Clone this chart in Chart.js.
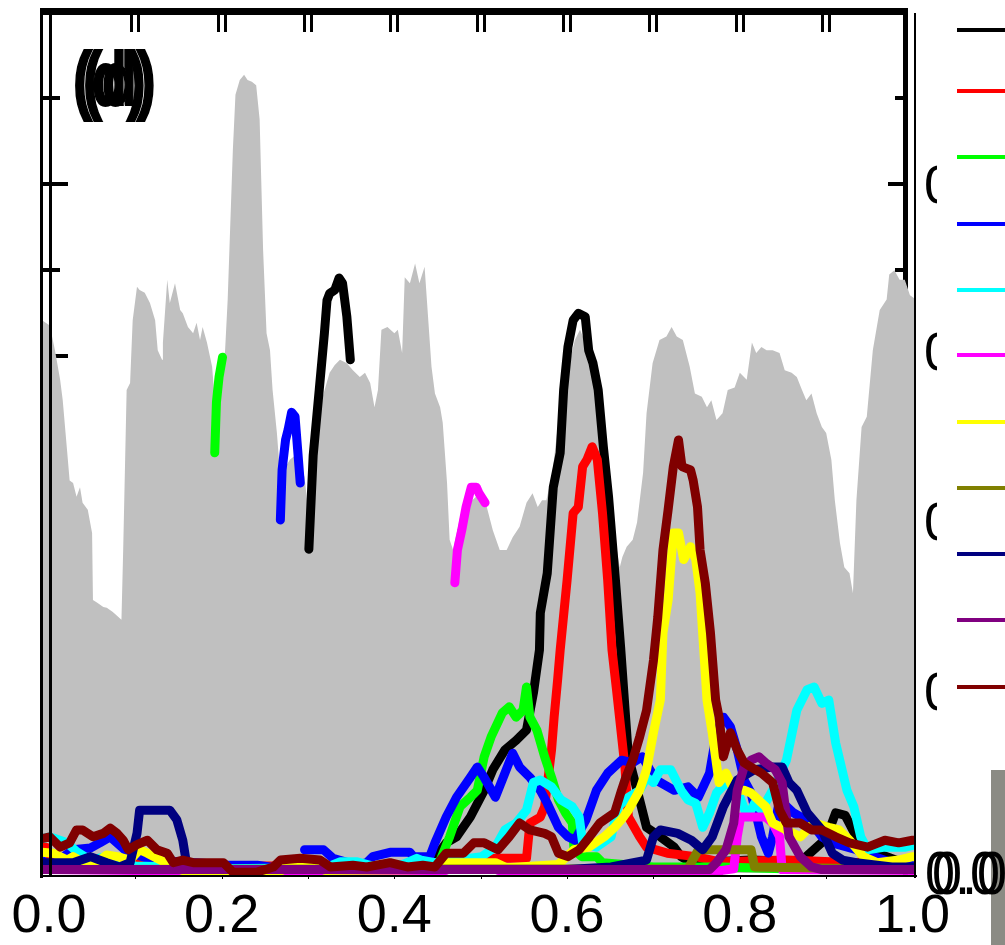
<!DOCTYPE html>
<html>
<head>
<meta charset="utf-8">
<title>Panel (d)</title>
<script src="https://cdn.jsdelivr.net/npm/chart.js@4/dist/chart.umd.min.js"></script>
<style>
  html, body { margin: 0; padding: 0; background: #fff; }
  #wrap { position: relative; width: 1005px; height: 945px; overflow: hidden; font-family: "Liberation Sans", Arial, sans-serif; }
  #wrap canvas { position: absolute; left: 0; top: 0; }
  .txt { position: absolute; color: #000; white-space: nowrap; line-height: 1; }
  .tag { font-weight: bold; font-size: 57px; transform: scaleY(1.33); transform-origin: 0 0; -webkit-text-stroke: 1.5px #000; }
  .rlab { font-size: 54px; }
  .zero { font-size: 54px; transform: scaleY(1.13); transform-origin: 0 0; }
  #legendBox { position: absolute; left: 937px; top: 0; width: 68px; height: 720px; background: #fff; }
  .key { position: absolute; left: 20px; width: 50px; height: 4px; }
  #bar { position: absolute; left: 991px; top: 770px; width: 14px; height: 175px; background: #8b8b84; }
</style>
</head>
<body>
<div id="wrap">
  <canvas id="chart" width="1005" height="945"></canvas>
  <div class="txt tag" style="left:73px; top:41px;">(d)</div>
  <div class="txt tag" style="left:83px; top:41px;">(d)</div>
  <div class="txt rlab" style="left:924px; top:157px;">0.8</div>
  <div class="txt rlab" style="left:924px; top:324px;">0.6</div>
  <div class="txt rlab" style="left:924px; top:494px;">0.4</div>
  <div class="txt rlab" style="left:924px; top:664px;">0.2</div>
  <div id="legendBox"></div>
  <div id="bar"></div>
  <div class="txt zero" style="left:925px; top:842px;">0.0</div>
  <div class="txt zero" style="left:932px; top:842px;">0.0</div>
</div>
<script>
// x axis labels
const xTicks = [0, 0.2, 0.4, 0.6, 0.8, 1.0];

// gray envelope [x, y]
const envelope = [
  [-0.008,0.642],[0.001,0.636],[0.007,0.607],[0.013,0.573],[0.016,0.549],[0.021,0.491],[0.024,0.456],[0.028,0.453],
  [0.032,0.437],[0.036,0.448],[0.039,0.430],[0.045,0.422],[0.050,0.395],[0.051,0.317],[0.056,0.314],[0.063,0.309],
  [0.067,0.308],[0.074,0.303],[0.084,0.294],[0.086,0.375],[0.090,0.561],[0.094,0.569],[0.097,0.642],[0.102,0.681],
  [0.105,0.677],[0.111,0.674],[0.117,0.662],[0.123,0.642],[0.126,0.607],[0.131,0.596],[0.132,0.616],[0.137,0.689],
  [0.140,0.662],[0.146,0.685],[0.152,0.654],[0.155,0.650],[0.161,0.634],[0.167,0.627],[0.171,0.639],[0.175,0.619],
  [0.178,0.634],[0.183,0.616],[0.189,0.588],[0.192,0.549],[0.194,0.491],[0.198,0.549],[0.204,0.607],[0.207,0.666],
  [0.209,0.724],[0.213,0.840],[0.216,0.904],[0.221,0.921],[0.226,0.927],[0.230,0.921],[0.235,0.919],[0.240,0.915],
  [0.244,0.875],[0.248,0.724],[0.252,0.627],[0.256,0.607],[0.259,0.561],[0.264,0.511],[0.267,0.472],[0.273,0.470],
  [0.279,0.480],[0.285,0.485],[0.291,0.476],[0.296,0.460],[0.300,0.422],[0.306,0.483],[0.311,0.514],[0.317,0.553],
  [0.325,0.581],[0.331,0.590],[0.337,0.596],[0.345,0.592],[0.352,0.584],[0.360,0.576],[0.366,0.581],[0.372,0.569],
  [0.377,0.541],[0.381,0.561],[0.385,0.631],[0.392,0.634],[0.400,0.627],[0.404,0.631],[0.409,0.604],[0.412,0.692],
  [0.418,0.685],[0.424,0.708],[0.429,0.685],[0.435,0.704],[0.439,0.646],[0.443,0.588],[0.447,0.557],[0.453,0.541],
  [0.456,0.523],[0.461,0.453],[0.464,0.387],[0.468,0.375],[0.476,0.413],[0.487,0.430],[0.499,0.441],[0.507,0.425],
  [0.514,0.398],[0.522,0.375],[0.530,0.375],[0.537,0.390],[0.545,0.402],[0.553,0.430],[0.560,0.441],[0.566,0.425],
  [0.571,0.433],[0.576,0.433],[0.583,0.465],[0.591,0.534],[0.600,0.581],[0.609,0.619],[0.615,0.631],[0.626,0.604],
  [0.634,0.557],[0.641,0.495],[0.649,0.418],[0.657,0.379],[0.661,0.355],[0.664,0.367],[0.669,0.379],[0.676,0.387],
  [0.681,0.407],[0.688,0.465],[0.692,0.534],[0.699,0.592],[0.707,0.619],[0.715,0.623],[0.721,0.634],[0.727,0.623],
  [0.734,0.619],[0.742,0.588],[0.748,0.557],[0.756,0.553],[0.762,0.541],[0.767,0.549],[0.773,0.526],[0.780,0.534],
  [0.786,0.561],[0.794,0.564],[0.800,0.581],[0.808,0.573],[0.814,0.616],[0.819,0.604],[0.825,0.611],[0.831,0.607],
  [0.838,0.607],[0.846,0.604],[0.852,0.584],[0.860,0.581],[0.866,0.576],[0.872,0.561],[0.877,0.549],[0.883,0.557],
  [0.889,0.534],[0.895,0.518],[0.900,0.511],[0.906,0.480],[0.910,0.433],[0.916,0.383],[0.921,0.355],[0.927,0.348],
  [0.931,0.325],[0.935,0.433],[0.941,0.518],[0.947,0.530],[0.954,0.607],[0.962,0.654],[0.970,0.666],[0.973,0.695],
  [0.979,0.700],[0.985,0.689],[0.991,0.689],[0.997,0.671],[1.004,0.666]
];

// colored series [x, y]; null = gap
const black = [
  [-0.008,0.012],[0.02,0.010],[0.10,0.008],[0.20,0.006],[0.29,0.006],[0.295,null],
  [0.301,0.376],[0.306,0.485],[0.313,0.561],[0.319,0.627],[0.322,0.665],[0.325,0.673],[0.331,0.677],[0.336,0.691],
  [0.340,0.685],[0.345,0.646],[0.349,0.596],[0.352,null],
  [0.36,0.006],[0.44,0.008],[0.460,0.035],[0.472,0.042],[0.488,0.065],[0.504,0.096],[0.514,0.120],[0.528,0.143],
  [0.541,0.154],[0.553,0.166],[0.561,0.209],[0.568,0.259],[0.569,0.302],[0.577,0.348],[0.584,0.448],[0.592,0.488],
  [0.596,0.561],[0.601,0.611],[0.607,0.642],[0.613,0.650],[0.621,0.646],[0.625,0.607],[0.630,0.592],[0.636,0.561],
  [0.642,0.495],[0.648,0.437],[0.656,0.340],[0.662,0.262],[0.671,0.135],[0.684,0.085],[0.692,0.053],[0.708,0.042],
  [0.724,0.030],[0.732,0.019],[0.744,0.012],[0.813,0.015],[0.870,0.013],[0.900,0.040],[0.911,0.070],[0.922,0.067],
  [0.935,0.042],[0.948,0.027],[0.986,0.013],[1.004,0.013]
];
const red = [
  [-0.008,0.030],[-0.003,0.030],[0.002,0.018],[0.05,0.012],[0.2,0.008],[0.4,0.008],[0.45,0.010],[0.509,0.017],
  [0.553,0.017],[0.557,0.058],[0.569,0.065],[0.574,0.077],[0.582,0.143],[0.585,0.181],[0.589,0.224],[0.592,0.259],
  [0.600,0.340],[0.607,0.418],[0.613,0.425],[0.618,0.472],[0.623,0.480],[0.629,0.495],[0.635,0.480],[0.641,0.418],
  [0.647,0.340],[0.652,0.259],[0.657,0.215],[0.667,0.123],[0.671,0.065],[0.684,0.042],[0.692,0.030],[0.716,0.023],
  [0.749,0.019],[0.777,0.013],[0.854,0.015],[0.935,0.012],[0.951,0.015],[1.004,0.009]
];
const green = [
  [-0.008,0.006],[0.1,0.005],[0.19,0.005],[0.191,null],
  [0.192,0.488],[0.194,0.547],[0.197,0.576],[0.201,0.599],[0.203,null],
  [0.21,0.005],[0.44,0.005],[0.452,0.012],[0.464,0.042],[0.476,0.077],[0.488,0.088],[0.496,0.096],[0.504,0.135],
  [0.512,0.158],[0.525,0.186],[0.533,0.193],[0.541,0.181],[0.549,0.189],[0.553,0.216],[0.557,0.181],[0.565,0.166],
  [0.574,0.135],[0.582,0.111],[0.590,0.085],[0.598,0.070],[0.606,0.058],[0.608,0.027],[0.617,0.019],[0.634,0.019],
  [0.641,0.012],[0.70,0.007],[0.78,0.007],[0.85,0.005],[1.004,0.005]
];
const blue = [
  [-0.008,0.015],[0.001,0.007],[0.028,0.027],[0.048,0.029],[0.059,0.035],[0.071,0.042],[0.09,0.025],[0.12,0.015],
  [0.2,0.010],[0.207,0.009],[0.241,0.009],[0.262,0.006],[0.265,null],
  [0.268,0.410],[0.270,0.468],[0.274,0.503],[0.277,0.515],[0.281,0.535],[0.285,0.530],[0.288,0.492],[0.291,0.453],[0.293,null],
  [0.296,0.027],[0.318,0.027],[0.329,0.017],[0.357,0.009],[0.368,0.012],[0.375,0.019],[0.395,0.024],[0.418,0.024],
  [0.422,0.019],[0.441,0.019],[0.447,0.035],[0.460,0.065],[0.472,0.088],[0.488,0.111],[0.496,0.123],[0.504,0.111],
  [0.517,0.088],[0.528,0.116],[0.537,0.139],[0.545,0.123],[0.557,0.111],[0.569,0.096],[0.577,0.081],[0.590,0.053],
  [0.601,0.042],[0.609,0.038],[0.622,0.062],[0.634,0.096],[0.647,0.116],[0.663,0.131],[0.676,0.128],[0.687,0.135],
  [0.703,0.108],[0.724,0.096],[0.740,0.100],[0.752,0.088],[0.765,0.116],[0.773,0.163],[0.781,0.181],[0.789,0.170],
  [0.797,0.143],[0.805,0.108],[0.813,0.093],[0.825,0.042],[0.833,0.023],[0.838,0.042],[0.846,0.085],[0.862,0.070],
  [0.883,0.058],[0.895,0.042],[0.907,0.035],[0.935,0.027],[0.956,0.019],[0.976,0.012],[1.004,0.012]
];
const cyan = [
  [-0.008,0.040],[0.001,0.042],[0.021,0.035],[0.032,0.025],[0.048,0.015],[0.07,0.020],[0.10,0.008],[0.144,0.007],
  [0.2,0.005],[0.32,0.006],[0.337,0.013],[0.357,0.013],[0.375,0.008],[0.41,0.010],[0.426,0.017],[0.431,0.015],
  [0.447,0.012],[0.501,0.019],[0.517,0.030],[0.528,0.050],[0.541,0.058],[0.553,0.073],[0.561,0.105],[0.569,0.108],
  [0.582,0.100],[0.593,0.085],[0.606,0.077],[0.614,0.065],[0.618,0.035],[0.634,0.030],[0.651,0.042],[0.659,0.077],
  [0.671,0.088],[0.684,0.096],[0.692,0.111],[0.700,0.105],[0.708,0.120],[0.720,0.120],[0.732,0.096],[0.740,0.085],
  [0.749,0.081],[0.757,0.053],[0.765,0.070],[0.773,0.093],[0.784,0.105],[0.797,0.096],[0.809,0.065],[0.817,0.081],
  [0.825,0.073],[0.840,0.100],[0.854,0.131],[0.866,0.189],[0.878,0.213],[0.886,0.216],[0.895,0.197],[0.903,0.201],
  [0.911,0.151],[0.924,0.096],[0.932,0.077],[0.940,0.042],[0.948,0.027],[0.968,0.030],[0.992,0.030],[1.004,0.033]
];
const magenta = [
  [-0.008,0.010],[0.0,0.004],[0.1,0.003],[0.46,0.003],[0.466,null],
  [0.470,0.337],[0.473,0.375],[0.478,0.398],[0.483,0.425],[0.489,0.448],[0.495,0.448],[0.498,0.441],[0.505,0.430],[0.507,null],
  [0.52,0.003],[0.78,0.003],[0.793,0.005],[0.797,0.042],[0.801,0.065],[0.813,0.065],[0.830,0.065],[0.838,0.058],
  [0.846,0.042],[0.849,0.004],[1.004,0.003]
];
const yellow = [
  [-0.008,0.024],[0.005,0.023],[0.021,0.015],[0.028,0.019],[0.048,0.007],[0.067,0.021],[0.079,0.019],[0.094,0.015],
  [0.105,0.027],[0.114,0.023],[0.129,0.015],[0.144,0.007],[0.155,0.003],[0.27,0.003],[0.275,0.008],[0.31,0.008],
  [0.32,0.003],[0.44,0.004],[0.455,0.012],[0.517,0.012],[0.53,0.006],[0.59,0.010],[0.608,0.027],[0.625,0.030],
  [0.643,0.042],[0.655,0.053],[0.663,0.062],[0.671,0.073],[0.684,0.096],[0.692,0.120],[0.700,0.163],[0.708,0.201],
  [0.711,0.279],[0.717,0.317],[0.723,0.395],[0.729,0.395],[0.735,0.364],[0.743,0.379],[0.749,0.364],[0.754,0.325],
  [0.762,0.201],[0.768,0.163],[0.776,0.105],[0.784,0.116],[0.793,0.096],[0.805,0.096],[0.813,0.093],[0.830,0.077],
  [0.838,0.058],[0.854,0.050],[0.870,0.042],[0.886,0.058],[0.903,0.053],[0.915,0.050],[0.927,0.038],[0.943,0.019],
  [0.959,0.012],[0.984,0.015],[1.000,0.019],[1.004,0.019]
];
const olive = [
  [-0.008,0.004],[0.74,0.005],[0.752,0.027],[0.781,0.027],[0.813,0.027],[0.817,0.007],[1.004,0.004]
];
const navy = [
  [-0.008,0.012],[0.001,0.012],[0.028,0.012],[0.048,0.019],[0.067,0.012],[0.082,0.007],[0.094,0.012],[0.102,0.046],
  [0.105,0.073],[0.140,0.073],[0.148,0.062],[0.155,0.038],[0.160,0.007],[0.163,0.004],[0.60,0.004],[0.651,0.007],
  [0.692,0.015],[0.700,0.042],[0.708,0.050],[0.728,0.046],[0.744,0.038],[0.757,0.027],[0.768,0.042],[0.781,0.077],
  [0.797,0.108],[0.817,0.120],[0.838,0.123],[0.849,0.123],[0.857,0.105],[0.866,0.096],[0.878,0.070],[0.895,0.050],
  [0.907,0.023],[0.919,0.015],[0.935,0.012],[0.976,0.007],[1.004,0.007]
];
const purple = [
  [-0.008,0.004],[0.765,0.004],[0.773,0.012],[0.784,0.027],[0.793,0.058],[0.797,0.096],[0.805,0.123],[0.813,0.131],
  [0.822,0.135],[0.830,0.128],[0.841,0.120],[0.849,0.105],[0.854,0.065],[0.857,0.042],[0.870,0.019],[0.883,0.007],
  [0.895,0.004],[1.004,0.004]
];
const maroon = [
  [-0.008,0.040],[0.001,0.042],[0.013,0.030],[0.024,0.035],[0.032,0.050],[0.039,0.050],[0.051,0.042],[0.063,0.046],
  [0.071,0.052],[0.079,0.046],[0.086,0.038],[0.092,0.027],[0.102,0.033],[0.114,0.038],[0.125,0.027],[0.137,0.023],
  [0.144,0.012],[0.155,0.015],[0.167,0.012],[0.202,0.012],[0.213,0.001],[0.241,0.001],[0.260,0.007],[0.268,0.015],
  [0.291,0.017],[0.314,0.015],[0.326,0.007],[0.352,0.009],[0.368,0.007],[0.395,0.012],[0.415,0.007],[0.433,0.009],
  [0.447,0.007],[0.460,0.023],[0.480,0.023],[0.492,0.035],[0.504,0.035],[0.520,0.027],[0.533,0.042],[0.545,0.058],
  [0.557,0.050],[0.574,0.046],[0.582,0.042],[0.590,0.023],[0.601,0.019],[0.614,0.027],[0.626,0.042],[0.638,0.058],
  [0.655,0.070],[0.663,0.096],[0.667,0.108],[0.676,0.131],[0.684,0.158],[0.692,0.189],[0.700,0.247],[0.705,0.297],
  [0.711,0.375],[0.717,0.422],[0.723,0.472],[0.729,0.503],[0.733,0.472],[0.743,0.468],[0.746,0.456],[0.751,0.425],
  [0.754,0.375],[0.760,0.337],[0.766,0.279],[0.772,0.201],[0.776,0.181],[0.781,0.135],[0.789,0.163],[0.797,0.143],
  [0.805,0.128],[0.813,0.123],[0.825,0.116],[0.838,0.105],[0.846,0.073],[0.854,0.058],[0.870,0.058],[0.883,0.050],
  [0.895,0.050],[0.911,0.042],[0.927,0.035],[0.948,0.030],[0.968,0.038],[0.984,0.035],[1.000,0.038],[1.004,0.038]
];

const lines = [
  { name: 'black', data: black, color: '#000000' },
  { name: 'red', data: red, color: '#ff0000' },
  { name: 'green', data: green, color: '#00ff00' },
  { name: 'blue', data: blue, color: '#0000ff' },
  { name: 'cyan', data: cyan, color: '#00ffff' },
  { name: 'magenta', data: magenta, color: '#ff00ff' },
  { name: 'yellow', data: yellow, color: '#ffff00' },
  { name: 'olive', data: olive, color: '#808000' },
  { name: 'navy', data: navy, color: '#000080' },
  { name: 'purple', data: purple, color: '#800080' },
  { name: 'maroon', data: maroon, color: '#800000' }
];
const legendY = [30, 91, 157, 224, 290, 355, 422, 488, 554, 620, 687];

const toPoints = arr => arr.map(p => ({ x: p[0], y: p[1] }));

const datasets = [{
  label: 'envelope',
  data: toPoints(envelope),
  borderColor: 'rgba(0,0,0,0)',
  borderWidth: 1,
  backgroundColor: '#c0c0c0',
  fill: 'origin',
  pointRadius: 0,
  order: 20
}];
lines.forEach((s, i) => {
  datasets.push({
    label: s.name,
    data: toPoints(s.data),
    borderColor: s.color,
    borderWidth: 9,
    borderJoinStyle: 'round',
    borderCapStyle: 'round',
    fill: false,
    pointRadius: 0,
    spanGaps: false,
    order: lines.length - i
  });
});

// double frame of the panel: thick parts sit under the data, thin parts on top
const framePlugin = {
  id: 'frame',
  beforeDatasetsDraw(chart) {
    const { ctx, chartArea: a, scales: { y } } = chart;
    ctx.save();
    ctx.fillStyle = '#000';
    ctx.fillRect(903, 8, 5, a.bottom - 8);
    for (let k = 1; k <= 9; k++) {
      const py = Math.round(y.getPixelForValue(k / 10));
      const major = k % 2 === 0;
      ctx.fillRect(a.left, py - 2, major ? 26 : 18, 4);
      ctx.fillRect(major ? 888 : 895, py - 2, major ? 20 : 13, 4);
    }
    ctx.restore();
  },
  afterDatasetsDraw(chart) {
    const { ctx, chartArea: a, scales: { x } } = chart;
    ctx.save();
    ctx.fillStyle = '#000';
    ctx.fillRect(40, 8, 3, a.bottom - 6);      // outer left
    ctx.fillRect(49, 12, 3, a.bottom - 11);    // inner left
    ctx.fillRect(40, 8, 868, 7);               // top
    ctx.fillRect(914, 13, 2, a.bottom - 11);   // thin right
    ctx.fillRect(40, a.bottom - 1, 877, 2);    // bottom
    for (let k = 1; k <= 9; k++) {
      const px = x.getPixelForValue(k / 10);
      ctx.fillRect(Math.round(px) - 5, 15, 3, 17);
      ctx.fillRect(Math.round(px) + 2, 15, 3, 17);
      ctx.fillRect(Math.round(px), a.bottom, 1, 3);
    }
    ctx.restore();
  }
};

new Chart(document.getElementById('chart').getContext('2d'), {
  type: 'line',
  data: { datasets: datasets },
  options: {
    responsive: false,
    animation: false,
    devicePixelRatio: 1,
    events: [],
    layout: { padding: { left: 42, right: 89, top: 12, bottom: 0 } },
    plugins: { legend: { display: false }, tooltip: { enabled: false } },
    scales: {
      x: {
        type: 'linear',
        min: -0.008,
        max: 1.004,
        afterBuildTicks: s => { s.ticks = xTicks.map(v => ({ value: v })); },
        afterFit: s => { s.height = 69; },
        grid: { display: false, drawTicks: false },
        border: { display: false },
        ticks: {
          padding: 9,
          color: '#000',
          autoSkip: false,
          maxRotation: 0,
          font: { family: '"Liberation Sans", Arial, sans-serif', size: 54 },
          callback: v => Number(v).toFixed(1)
        }
      },
      y: { display: false, min: -0.0035, max: 1 }
    }
  },
  plugins: [framePlugin]
});

// legend swatches only; their labels fall outside the picture
const box = document.getElementById('legendBox');
lines.forEach((s, i) => {
  const key = document.createElement('div');
  key.className = 'key';
  key.style.top = (legendY[i] - 2) + 'px';
  key.style.background = s.color;
  box.appendChild(key);
});
</script>
</body>
</html>
